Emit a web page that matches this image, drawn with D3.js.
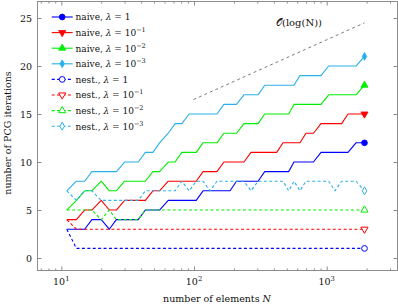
<!DOCTYPE html>
<html>
<head>
<meta charset="utf-8">
<script src="https://cdn.jsdelivr.net/npm/d3@7"></script>
<style>
  body { margin: 0; background: #fff; }
  svg text { font-family: "DejaVu Serif", serif; fill: #111; }
</style>
</head>
<body>
<div id="canvas"></div>
<script>
// number of elements N (x values, shared by all series)
let elems = [11, 13, 15, 17, 20, 23, 26, 30, 34, 38, 43, 49, 55, 64, 72, 81, 92, 104, 117, 132,
  149, 168, 187, 209, 238, 269, 304, 341, 378, 420, 469, 517, 567, 629, 698, 795, 906, 1035,
  1155, 1297, 1447, 1663, 1927]

// PCG iterations, naive preconditioner
let naive1   = [3,3,3,4,4,3,4,4,4,4,5,5,5,6,6,6,6,6,7,7,7,7,7,8,8,8,8,9,9,9,9,9,10,10,10,10,11,11,11,11,11,12,12]
let naive1e1 = [4,4,5,5,6,5,5,6,6,6,6,7,7,8,8,8,8,8,9,9,9,10,10,10,10,11,11,11,11,11,12,12,12,12,13,13,14,14,14,14,15,15,15]
let naive1e2 = [5,6,7,7,8,7,7,8,8,8,8,9,9,10,10,11,11,11,12,12,12,13,13,13,14,14,14,15,15,15,15,15,16,16,16,16,16,17,17,17,17,17,18]
let naive1e3 = [7,8,8,9,9,9,9,10,10,10,11,11,12,13,14,14,15,15,15,15,15,16,16,16,17,17,17,18,18,18,18,18,18,19,19,19,19,20,20,20,20,20,21]

// PCG iterations, nested preconditioner
let nest1   = [3,1,1,1,1,1,1,1,1,1,1,1,1,1,1,1,1,1,1,1,1,1,1,1,1,1,1,1,1,1,1,1,1,1,1,1,1,1,1,1,1,1,1]
let nest1e1 = [4,3,3,3,3,3,3,3,3,3,3,3,3,3,3,3,3,3,3,3,3,3,3,3,3,3,3,3,3,3,3,3,3,3,3,3,3,3,3,3,3,3,3]
let nest1e2 = [5,5,5,5,4,5,4,4,4,4,5,5,5,5,5,5,5,5,5,5,5,5,5,5,5,5,5,5,5,5,5,5,5,5,5,5,5,5,5,5,5,5,5]
let nest1e3 = [7,6,7,7,6,6,6,6,6,6,7,7,7,7,7,8,7,8,8,7,8,8,8,8,8,7,8,8,8,8,8,7,8,7,8,8,8,8,7,8,8,8,7]

// reference slope O(log N)
let refN = [99, 1927]
let refIt = [16.5, 24.5]

let legendNames = ["naive", "naive", "naive", "naive", "nest.", "nest.", "nest.", "nest."]
let legendLambda = ["1", "-1", "-2", "-3", "1", "-1", "-2", "-3"]
let yTicks = [0, 5, 10, 15, 20, 25]
let xTicks = [10, 100, 1000]
let xMinor = [7, 8, 9, 20, 30, 40, 50, 60, 70, 80, 90, 200, 300, 400, 500, 600, 700, 800, 900, 2000, 3000]

let series = [
  {v: naive1,   color: "#0000ff", dash: null, mark: "circle",  open: false},
  {v: naive1e1, color: "#ff0000", dash: null, mark: "tridown", open: false},
  {v: naive1e2, color: "#00ee00", dash: null, mark: "triup",   open: false},
  {v: naive1e3, color: "#2ab0ec", dash: null, mark: "diamond", open: false},
  {v: nest1,    color: "#0000ff", dash: "3,2.4", mark: "circle",  open: true},
  {v: nest1e1,  color: "#ff0000", dash: "3,2.4", mark: "tridown", open: true},
  {v: nest1e2,  color: "#00ee00", dash: "3,2.4", mark: "triup",   open: true},
  {v: nest1e3,  color: "#2ab0ec", dash: "3,2.4", mark: "diamond", open: true}
]

let W = 398, H = 306
let L = 37.5, R = 397.5, T = 1.5, B = 270.5
let frameColor = "#8c8c8c"

let svg = d3.select("#canvas").append("svg")
  .attr("width", W).attr("height", H)

let x = d3.scaleLog().domain([6.617, 3417]).range([L, R])
let y = d3.scaleLinear().domain([-1.3, 26.72]).range([B, T])

// axes (ticks pointing inward)
function styleAxis(g) {
  g.select(".domain").remove()
  g.selectAll(".tick line").attr("stroke", frameColor)
}
svg.append("g").attr("transform", `translate(0,${B})`)
  .call(d3.axisBottom(x).tickValues(xMinor).tickSizeInner(-2).tickSizeOuter(0).tickFormat(""))
  .call(styleAxis)
svg.append("g").attr("transform", `translate(0,${T})`)
  .call(d3.axisTop(x).tickValues(xMinor).tickSizeInner(-2).tickSizeOuter(0).tickFormat(""))
  .call(styleAxis)
svg.append("g").attr("transform", `translate(0,${B})`)
  .call(d3.axisBottom(x).tickValues(xTicks).tickSizeInner(-4).tickSizeOuter(0).tickFormat(""))
  .call(styleAxis)
svg.append("g").attr("transform", `translate(0,${T})`)
  .call(d3.axisTop(x).tickValues(xTicks).tickSizeInner(-4).tickSizeOuter(0).tickFormat(""))
  .call(styleAxis)
let yAxisG = svg.append("g").attr("transform", `translate(${L},0)`)
  .call(d3.axisLeft(y).tickValues(yTicks).tickSizeInner(-4).tickSizeOuter(0).tickPadding(5.5))
  .call(styleAxis)
yAxisG.selectAll("text").attr("font-size", 9.5).attr("font-family", "DejaVu Serif").attr("fill", "#111")
svg.append("g").attr("transform", `translate(${R},0)`)
  .call(d3.axisRight(y).tickValues(yTicks).tickSizeInner(-4).tickSizeOuter(0).tickFormat(""))
  .call(styleAxis)

// x tick labels 10^k
xTicks.forEach(v => {
  let t = svg.append("text").attr("x", x(v)).attr("y", 284.5)
    .attr("text-anchor", "middle").attr("font-size", 9.5)
  t.append("tspan").text("10")
  t.append("tspan").attr("dy", -4).attr("font-size", 6.8).text(Math.round(Math.log10(v)))
})

// frame
svg.append("rect").attr("x", L).attr("y", T).attr("width", R - L).attr("height", B - T)
  .attr("fill", "none").attr("stroke", frameColor).attr("stroke-width", 1)

// reference line
svg.append("path")
  .datum(refN.map((n, i) => [n, refIt[i]]))
  .attr("d", d3.line().x(d => x(d[0])).y(d => y(d[1])))
  .attr("fill", "none").attr("stroke", "#444").attr("stroke-width", 0.7)
  .attr("stroke-dasharray", "3,3")
svg.append("text").attr("x", 299).attr("y", 25.5).attr("text-anchor", "middle")
  .attr("font-size", 10).text("𝒪(log(N))")

function markPath(kind) {
  if (kind === "circle") return d3.symbol(d3.symbolCircle, 26)()
  if (kind === "diamond") return d3.symbol(d3.symbolDiamond, 18)()
  return d3.symbol(d3.symbolTriangle, 22)()
}
function drawMark(g, s, cx, cy) {
  g.append("path").attr("d", markPath(s.mark))
    .attr("transform", `translate(${cx},${cy})` + (s.mark === "tridown" ? " rotate(180)" : ""))
    .attr("fill", s.open ? "#fff" : s.color)
    .attr("stroke", s.color).attr("stroke-width", s.open ? 1 : 0.8)
}

let line = d3.line().x((d, i) => x(elems[i])).y(d => y(d))
let plotG = svg.append("g")
series.forEach(s => {
  plotG.append("path").datum(s.v).attr("d", line)
    .attr("fill", "none").attr("stroke", s.color).attr("stroke-width", 1.1)
    .attr("stroke-linejoin", "round")
    .attr("stroke-dasharray", s.dash)
  let last = s.v.length - 1
  drawMark(plotG, s, x(elems[last]), y(s.v[last]))
})

// legend
let lg = svg.append("g")
series.forEach((s, i) => {
  let cy = 17 + i * 15.6
  lg.append("line").attr("x1", 51.7).attr("x2", 72.7).attr("y1", cy).attr("y2", cy)
    .attr("stroke", s.color).attr("stroke-width", 1.1).attr("stroke-dasharray", s.dash)
  drawMark(lg, s, 62.2, cy)
  let t = lg.append("text").attr("x", 75.5).attr("y", cy + 3.3).attr("font-size", 9)
  t.append("tspan").text(legendNames[i] + ", ")
  t.append("tspan").attr("font-style", "italic").text("λ")
  if (legendLambda[i] === "1") {
    t.append("tspan").text(" = 1")
  } else {
    t.append("tspan").text(" = 10")
    t.append("tspan").attr("dy", -4).attr("font-size", 6.5).text("−" + legendLambda[i].slice(1))
  }
})

// axis labels
svg.append("text").attr("transform", "translate(10.5,133) rotate(-90)")
  .attr("text-anchor", "middle").attr("font-size", 9.5).text("number of PCG iterations")
let xl = svg.append("text").attr("x", 217).attr("y", 302).attr("text-anchor", "middle").attr("font-size", 9.5)
xl.append("tspan").text("number of elements ")
xl.append("tspan").attr("font-style", "italic").text("N")
</script>
</body>
</html>
